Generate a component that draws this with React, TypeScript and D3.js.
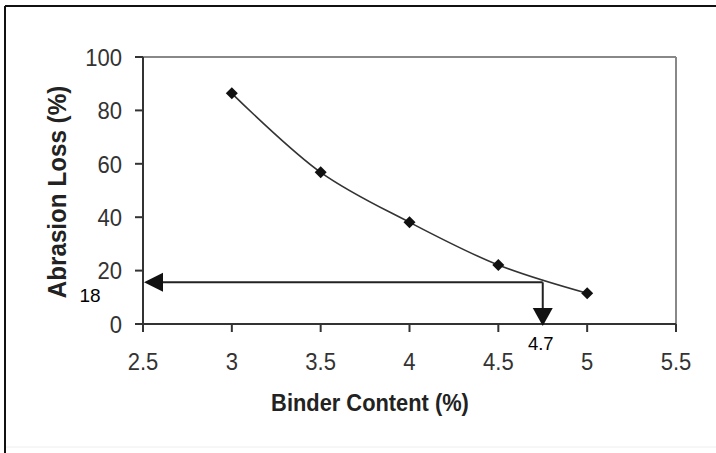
import React from "react";
import * as d3 from "d3";

const binderContent = [3, 3.5, 4, 4.5, 5];
const abrasionLoss = [86.4, 56.8, 38.1, 22.1, 11.5];
const xTicks = [2.5, 3, 3.5, 4, 4.5, 5, 5.5];
const yTicks = [0, 20, 40, 60, 80, 100];
const arrowLossValue = 15.6;
const arrowLossLabel = "18";
const arrowBinderValue = 4.75;
const arrowBinderLabel = "4.7";
const xTitle = "Binder Content (%)";
const yTitle = "Abrasion Loss (%)";

const W = 716;
const H = 453;
const left = 143, right = 676, top = 57, bottom = 324;

export default function App() {
  const x = d3.scaleLinear().domain([2.5, 5.5]).range([left, right]);
  const y = d3.scaleLinear().domain([0, 100]).range([bottom, top]);
  const pts = binderContent.map((b, i) => [x(b), y(abrasionLoss[i])] as [number, number]);
  const line = d3.line().curve(d3.curveCatmullRom.alpha(0.5))(pts) || "";
  const r = 6;
  const diamond = `M0,${-r} L${r},0 L0,${r} L${-r},0 Z`;

  const ay = y(arrowLossValue);
  const ax = x(arrowBinderValue);
  const font = "'Liberation Sans', Arial, sans-serif";

  return (
    <svg width={W} height={H} style={{ position: "absolute", left: 0, top: 0, background: "#fff" }}>
      <rect x={0} y={0} width={W} height={H} fill="#fff" />
      {/* outer frame */}
      <line x1={5} y1={6} x2={W} y2={6} stroke="#111" strokeWidth={2} />
      <line x1={5} y1={6} x2={5} y2={H} stroke="#111" strokeWidth={2} />
      <line x1={6} y1={447} x2={W} y2={447} stroke="#eee" strokeWidth={1} />

      {/* plot area border */}
      <line x1={left} y1={top} x2={right} y2={top} stroke="#888" strokeWidth={2} />
      <line x1={right} y1={top} x2={right} y2={bottom} stroke="#888" strokeWidth={2} />

      {/* axes */}
      <line x1={left} y1={top} x2={left} y2={bottom} stroke="#333" strokeWidth={2} />
      <line x1={left} y1={bottom} x2={right} y2={bottom} stroke="#333" strokeWidth={2} />

      {yTicks.map((t) => (
        <g key={"y" + t}>
          <line x1={left - 8} x2={left} y1={y(t)} y2={y(t)} stroke="#333" strokeWidth={2} />
          <text
            transform={`translate(${left - 21},${y(t)}) scale(0.9,1)`}
            dy="0.36em"
            textAnchor="end"
            fontFamily={font}
            fontSize={24.5}
            fill="#333"
          >
            {t}
          </text>
        </g>
      ))}
      {xTicks.map((t) => (
        <g key={"x" + t}>
          <line x1={x(t)} x2={x(t)} y1={bottom} y2={bottom + 8} stroke="#333" strokeWidth={2} />
          <text
            transform={`translate(${x(t)},370) scale(0.9,1)`}
            textAnchor="middle"
            fontFamily={font}
            fontSize={24.5}
            fill="#333"
          >
            {t}
          </text>
        </g>
      ))}

      <text
        transform={`translate(370,411) scale(0.95,1)`}
        textAnchor="middle"
        fontFamily={font}
        fontWeight="bold"
        fontSize={23}
        fill="#222"
      >
        {xTitle}
      </text>
      <text
        transform={`translate(66, 192) rotate(-90) scale(0.95,1)`}
        textAnchor="middle"
        fontFamily={font}
        fontWeight="bold"
        fontSize={25.5}
        fill="#222"
      >
        {yTitle}
      </text>

      {/* data line */}
      <path d={line} fill="none" stroke="#333" strokeWidth={1.6} />
      {pts.map((p, i) => (
        <path key={i} d={diamond} transform={`translate(${p[0]},${p[1]})`} fill="#111" />
      ))}

      {/* annotation arrows */}
      <line x1={ax} y1={ay} x2={left + 18} y2={ay} stroke="#222" strokeWidth={2} />
      <path d={`M${left + 1},${ay} L${left + 20},${ay - 9.5} L${left + 20},${ay + 9.5} Z`} fill="#111" />
      <line x1={ax} y1={ay} x2={ax} y2={bottom - 14} stroke="#222" strokeWidth={2} />
      <path d={`M${ax},${bottom + 2} L${ax - 10},${bottom - 16} L${ax + 10},${bottom - 16} Z`} fill="#111" />

      <text x={90} y={302} textAnchor="middle" fontFamily={font} fontSize={19} fill="#000">
        {arrowLossLabel}
      </text>
      <text x={ax - 2} y={350} textAnchor="middle" fontFamily={font} fontSize={18.5} fill="#000">
        {arrowBinderLabel}
      </text>
    </svg>
  );
}
